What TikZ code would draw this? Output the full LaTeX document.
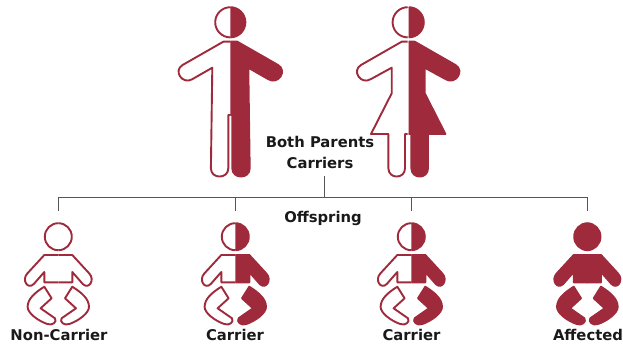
\documentclass[tikz,border=0pt]{standalone}
\usepackage{fontspec}
\setmainfont{DejaVu Sans}
\usepackage{xcolor}
\usetikzlibrary{positioning}
\definecolor{carrierred}{HTML}{9E2A3B}
\definecolor{linegray}{HTML}{555555}

\begin{document}
\begin{tikzpicture}[
    x=1pt, y=-1pt,
    openpart/.style={draw=carrierred, fill=white, line width=1.9pt, line join=round},
    solidpart/.style={draw=carrierred, fill=carrierred, line width=1.9pt, line join=round},
    caption/.style={font=\bfseries\fontsize{14.8}{21}\selectfont, text=black!90, align=center, inner sep=0pt},
    link/.style={draw=linegray, line width=1.2pt},
    manhalf/.pic={
        \path[pic actions] (0,7.2) .. controls (-8.3,7.2) and (-15.1,14) .. (-15.1,22.3) .. controls (-15.1,30.6) and (-8.3,37.4) .. (0,37.4);
        \path[pic actions] (0,41.7) -- (-7,41.7) -- (-47.7,65) .. controls (-57.4,70.7) and (-47.9,85) .. (-38.2,79.3) -- (-18,67.7) -- (-19.4,168.3) .. controls (-19.4,179.3) and (-2,179.3) .. (-2,168.3) -- (-2,115) -- (0,115);
    },
    womanhalf/.pic={
        \path[pic actions] (0,7.2) .. controls (-8.3,7.2) and (-15.1,14) .. (-15.1,22.3) .. controls (-15.1,30.6) and (-8.3,37.4) .. (0,37.4);
        \path[pic actions] (0,41.7) -- (-6,41.7) -- (-46.7,65) .. controls (-56.4,70.7) and (-46.9,85) .. (-37.2,79.3) -- (-16,67.7) -- (-16,93.3) -- (-36.7,134) -- (-19.3,134) -- (-19.3,168.3) .. controls (-19.3,179.3) and (-2.7,179.3) .. (-2.7,168.3) -- (-2.7,134) -- (0,134);
    },
    babyhalf/.pic={
        \path[pic actions] (0,223.2) .. controls (-7.5,223.2) and (-13.5,229.2) .. (-13.5,236.7) .. controls (-13.5,244.2) and (-7.5,250.2) .. (0,250.2);
        \path[pic actions] (0,255) -- (-14,255) -- (-31,273.5) .. controls (-37,280) and (-30.5,290) .. (-24.5,284) -- (-14,272) -- (-14,282.3) -- (0,282.3);
        \path[pic actions] (-14,286.7) -- (-6.7,298.3) -- (-17.7,308.3) -- (-3.3,318.3) .. controls (-1,322) and (-6,326) .. (-11,324) .. controls (-20,321) and (-31,313) .. (-30.7,306.7) .. controls (-30.5,299) and (-24,293) .. (-14,286.7) -- cycle;
    }
]
\useasboundingbox (0,0) rectangle (623,345);

% Parents
\pic[openpart] at (230.3,0) {manhalf};
\pic[solidpart, xscale=-1] at (230.3,0) {manhalf};
\pic[openpart] at (407.7,0) {womanhalf};
\pic[solidpart, xscale=-1] at (408.7,0) {womanhalf};

% Offspring
\pic[openpart] at (58.3,0) {babyhalf};
\pic[openpart, xscale=-1] at (58.3,0) {babyhalf};
\pic[openpart] at (235.3,0) {babyhalf};
\pic[solidpart, xscale=-1] at (235.3,0) {babyhalf};
\pic[openpart] at (411.3,0) {babyhalf};
\pic[solidpart, xscale=-1] at (411.3,0) {babyhalf};
\pic[solidpart] at (587.7,0) {babyhalf};
\pic[solidpart, xscale=-1] at (587,0) {babyhalf};

% Labels
\node[caption] (parents) at (320,152) {Both Parents\\Carriers};
\node[caption] (offspring) at (323,218.5) {Offspring};
\node[caption] (noncarrier) at (59,335) {Non-Carrier};
\node[caption] (carrierone) at (235,335) {Carrier};
\node[caption] (carriertwo) at (411.5,335) {Carrier};
\node[caption] (affected) at (588,335) {Affected};

% Tree
\coordinate (trunk) at (324.3,176);
\coordinate (junction) at (324.3,197.3);
\coordinate (dropa) at (58.3,210.7);
\coordinate (dropb) at (235.3,210.7);
\coordinate (dropc) at (411.3,210.7);
\coordinate (dropd) at (587.3,210.7);
\draw[link] (trunk) -- (junction);
\draw[link] (dropa) |- (junction) -| (dropd);
\draw[link] (dropb) -- (dropb |- junction);
\draw[link] (dropc) -- (dropc |- junction);
\end{tikzpicture}
\end{document}
